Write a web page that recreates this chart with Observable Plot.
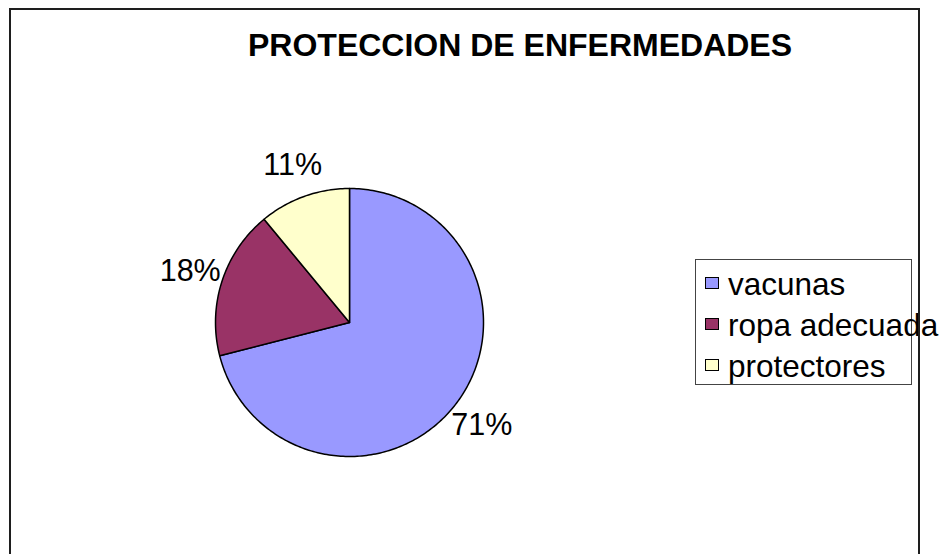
<!DOCTYPE html>
<html><head><meta charset="utf-8">
<script src="https://cdn.jsdelivr.net/npm/d3@7"></script>
<script src="https://cdn.jsdelivr.net/npm/@observablehq/plot@0.6"></script>
<style>
html,body{margin:0;padding:0;background:#fff;overflow:hidden;}
#root{position:relative;width:944px;height:554px;font-family:"Liberation Sans",Arial,sans-serif;color:#000;}
#chart{position:absolute;left:0;top:0;}
#frame{position:absolute;left:9px;top:8px;width:911px;height:620px;border:2px solid #1e1e1e;box-sizing:border-box;pointer-events:none;}
#title{position:absolute;left:248px;top:29px;font-weight:bold;font-size:32px;line-height:32px;white-space:nowrap;}
#legend{position:absolute;left:695px;top:259px;width:217px;height:126px;box-sizing:border-box;border:1px solid #444;background:#fff;padding:3.6px 0 0 9px;}
.item{font-size:31.5px;line-height:41px;white-space:nowrap;}
.sw{display:inline-block;width:14px;height:12px;box-sizing:border-box;border:1.5px solid #000;margin:0 9px 6px 0;vertical-align:baseline;}
</style></head>
<body><div id="root"><div id="chart"></div><div id="title"></div><div id="legend"></div><div id="frame"></div></div>
<script>
const titleText = "PROTECCION DE ENFERMEDADES";
const categories = ["vacunas", "ropa adecuada", "protectores"];
const values = [71, 18, 11];
const percentLabels = ["71%", "18%", "11%"];
const colors = ["#9999FF", "#993366", "#FFFFCC"];

const W = 944, H = 554, cx = 349, cy = 322, R = 134;
const rows = categories.map((c, i) => ({category: c, value: values[i], label: percentLabels[i]}));
const arcs = d3.pie().sort(null).value(d => d.value)(rows);

const pts = [];
for (const a of arcs) {
  const c = a.data.category;
  pts.push({category: c, x: 0, y: 0});
  const n = Math.max(2, Math.ceil((a.endAngle - a.startAngle) / (Math.PI / 180)));
  for (let k = 0; k <= n; k++) {
    const t = a.startAngle + (a.endAngle - a.startAngle) * k / n;
    pts.push({category: c, x: Math.sin(t), y: Math.cos(t)});
  }
  pts.push({category: c, x: 0, y: 0});
}
const labelR = 1.25;
const labels = arcs.map(a => {
  const m = (a.startAngle + a.endAngle) / 2;
  return {label: a.data.label, x: labelR * Math.sin(m), y: labelR * Math.cos(m)};
});

const chart = Plot.plot({
  width: W, height: H, margin: 0,
  x: {domain: [-cx / R, (W - cx) / R], range: [0, W], axis: null},
  y: {domain: [(cy - H) / R, cy / R], range: [H, 0], axis: null},
  color: {domain: categories, range: colors},
  style: {background: "transparent", overflow: "visible", fontFamily: "'Liberation Sans', Arial, sans-serif"},
  marks: [
    Plot.line(pts, {x: "x", y: "y", z: "category", fill: "category", stroke: "#000", strokeWidth: 1.5, strokeLinejoin: "round", curve: "linear"}),
    Plot.text(labels, {x: "x", y: "y", text: "label", fontSize: 30.5, fill: "#000", fontFamily: "'Liberation Sans', Arial, sans-serif"})
  ]
});
document.getElementById("chart").appendChild(chart);

document.getElementById("title").textContent = titleText;
const legend = document.getElementById("legend");
categories.forEach((c, i) => {
  const item = document.createElement("div");
  item.className = "item";
  const sw = document.createElement("span");
  sw.className = "sw";
  sw.style.background = colors[i];
  item.appendChild(sw);
  item.appendChild(document.createTextNode(c));
  legend.appendChild(item);
});
</script></body></html>
